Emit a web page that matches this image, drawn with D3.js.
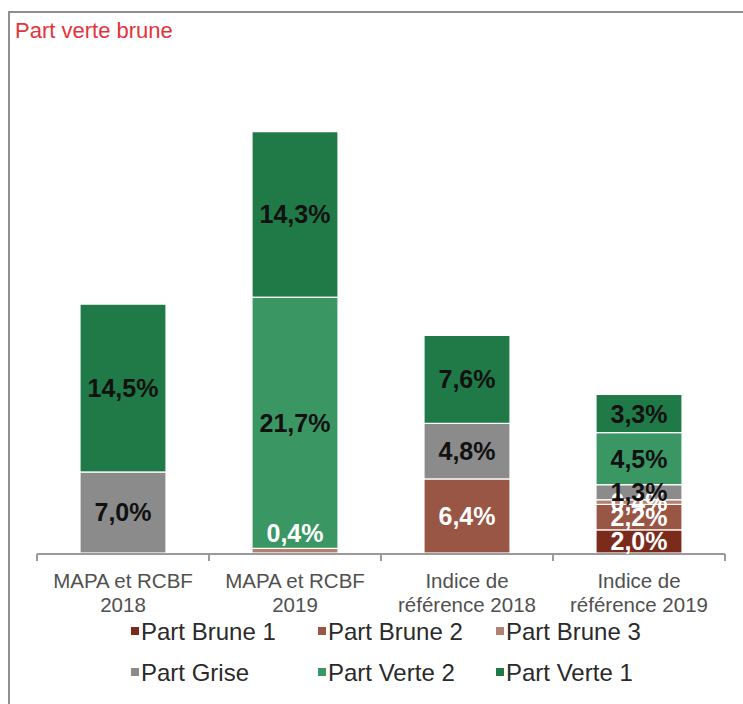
<!DOCTYPE html>
<html>
<head>
<meta charset="utf-8">
<script src="https://cdn.jsdelivr.net/npm/d3@7"></script>
<style>
  body { margin: 0; background: #fff; }
  text { font-family: "Liberation Sans", Arial, sans-serif; }
</style>
</head>
<body>
<script>
// Part verte brune - stacked bars
const categories = [
    ["MAPA et RCBF", "2018"],
    ["MAPA et RCBF", "2019"],
    ["Indice de", "référence 2018"],
    ["Indice de", "référence 2019"]
];
const seriesNames = ["Part Brune 1", "Part Brune 2", "Part Brune 3", "Part Grise", "Part Verte 2", "Part Verte 1"];
const brune1 = [0, 0, 0, 2.0];
const brune2 = [0, 0, 6.4, 2.2];
const brune3 = [0, 0.4, 0, 0.4];
const grise  = [7.0, 0, 4.8, 1.3];
const verte2 = [0, 21.7, 0, 4.5];
const verte1 = [14.5, 14.3, 7.6, 3.3];

const colors = ["#7a2b1b", "#995644", "#b37f70", "#8b8b8b", "#3a9764", "#1f7a48"];
const labelColors = ["#fff", "#fff", "#fff", "#111", "#111", "#111"];

const svgWidth = 743;
const svgHeight = 704;

const svg = d3.select("body")
    .append("svg")
    .attr("width", svgWidth)
    .attr("height", svgHeight);

// frame (cut off on the right and bottom)
svg.append("path")
    .attr("d", `M9,${svgHeight} V12 H${svgWidth}`)
    .attr("fill", "none")
    .attr("stroke", "#8f8f8f")
    .attr("stroke-width", 2);

svg.append("text")
    .attr("x", 15)
    .attr("y", 38)
    .attr("fill", "#e6323c")
    .attr("font-size", "22px")
    .text("Part verte brune");

// build table for the stack
const cols = [brune1, brune2, brune3, grise, verte2, verte1];
const table = categories.map((c, i) => {
    const row = { idx: i };
    seriesNames.forEach((s, j) => row[s] = cols[j][i]);
    return row;
});

const stack = d3.stack().keys(seriesNames)(table);

const x = d3.scaleBand()
    .domain(d3.range(categories.length))
    .range([37, 725])
    .paddingInner(0.5)
    .paddingOuter(0.25);

const y = d3.scaleLinear()
    .domain([0, 40])
    .range([553, 90]);

const layers = svg.append("g")
    .selectAll("g")
    .data(stack)
    .enter()
    .append("g")
    .attr("fill", (d, i) => colors[i]);

layers.selectAll("rect")
    .data(d => d.filter(p => p[1] - p[0] > 0))
    .enter()
    .append("rect")
    .attr("x", d => x(d.data.idx))
    .attr("width", x.bandwidth())
    .attr("y", d => y(d[1]))
    .attr("height", d => y(d[0]) - y(d[1]))
    .attr("stroke", "#fff")
    .attr("stroke-width", 1.2);

// axis
const axisG = svg.append("g");
axisG.append("line")
    .attr("x1", 37).attr("x2", 725)
    .attr("y1", 554).attr("y2", 554)
    .attr("stroke", "#9a9a9a")
    .attr("stroke-width", 2);
const tickPos = d3.range(categories.length + 1).map(i => i === categories.length
    ? x.range()[1]
    : x(i) - x.step() * x.paddingInner() / 2);
axisG.selectAll(".tick")
    .data(tickPos)
    .enter()
    .append("line")
    .attr("x1", d => d).attr("x2", d => d)
    .attr("y1", 554).attr("y2", 561)
    .attr("stroke", "#9a9a9a")
    .attr("stroke-width", 2);

// value labels; a tiny segment at the base gets its label lifted above the axis
function labelY(d) {
    const mid = (y(d[0]) + y(d[1])) / 2;
    if (d[0] === 0 && y(d[0]) - y(d[1]) < 12) return y(0) - 20;
    return mid;
}

stack.forEach((layer, i) => {
    svg.append("g")
        .selectAll("text")
        .data(layer.filter(p => p[1] - p[0] > 0))
        .enter()
        .append("text")
        .attr("x", d => x(d.data.idx) + x.bandwidth() / 2)
        .attr("y", labelY)
        .attr("dy", "0.36em")
        .attr("text-anchor", "middle")
        .attr("font-size", "25px")
        .attr("font-weight", "bold")
        .attr("fill", labelColors[i])
        .text(d => (d[1] - d[0]).toFixed(1).replace(".", ",") + "%");
});

// category labels
const catG = svg.append("g")
    .selectAll("text")
    .data(categories)
    .enter()
    .append("text")
    .attr("text-anchor", "middle")
    .attr("font-size", "20.5px")
    .attr("fill", "#505050");
catG.each(function(d, i) {
    const t = d3.select(this);
    d.forEach((line, k) => {
        t.append("tspan")
            .attr("x", x(i) + x.bandwidth() / 2)
            .attr("y", 588 + k * 24)
            .text(line);
    });
});

// legend
const legendCols = [131, 318, 496];
const legend = svg.append("g")
    .selectAll("g")
    .data(seriesNames)
    .enter()
    .append("g")
    .attr("transform", (d, i) => `translate(${legendCols[i % 3]}, ${i < 3 ? 631 : 672})`);

legend.append("rect")
    .attr("x", 0)
    .attr("y", -4)
    .attr("width", 8)
    .attr("height", 8)
    .attr("fill", (d, i) => colors[i]);

legend.append("text")
    .attr("x", 10)
    .attr("dy", "0.36em")
    .attr("font-size", "24px")
    .attr("fill", "#2a2a2a")
    .text(d => d);
</script>
</body>
</html>
